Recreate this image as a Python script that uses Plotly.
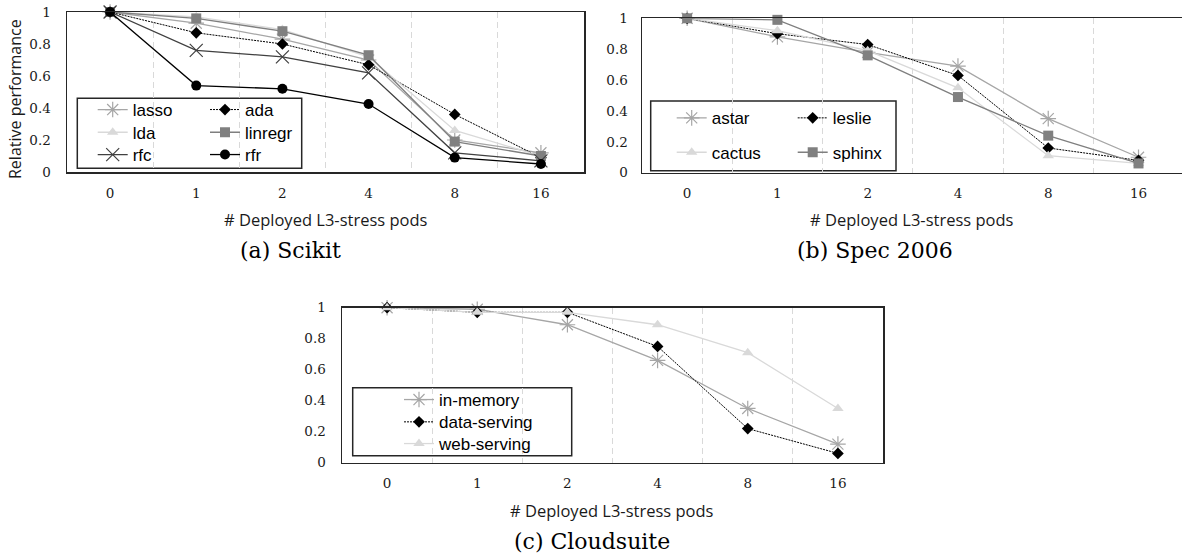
import plotly.graph_objects as go

W, H = 1182, 558

# ---------------- data ----------------
pods = ["0", "1", "2", "4", "8", "16"]

# (a) Scikit
lasso = [1.00, 0.93, 0.83, 0.70, 0.20, 0.12]
ada = [1.00, 0.87, 0.80, 0.67, 0.36, 0.09]
lda = [1.00, 0.97, 0.89, 0.72, 0.26, 0.10]
linregr = [1.00, 0.96, 0.88, 0.73, 0.19, 0.10]
rfc = [1.00, 0.76, 0.72, 0.62, 0.12, 0.07]
rfr = [1.00, 0.54, 0.52, 0.425, 0.09, 0.05]

# (b) Spec 2006
astar = [1.00, 0.88, 0.78, 0.69, 0.35, 0.10]
leslie = [1.00, 0.90, 0.83, 0.63, 0.16, 0.08]
cactus = [1.00, 0.92, 0.79, 0.55, 0.11, 0.06]
sphinx = [1.00, 0.99, 0.76, 0.49, 0.24, 0.06]

# (c) Cloudsuite
in_memory = [1.00, 0.99, 0.89, 0.66, 0.35, 0.12]
data_serving = [1.00, 0.97, 0.97, 0.75, 0.22, 0.06]
web_serving = [1.00, 0.97, 0.97, 0.89, 0.71, 0.35]

y_ticks = [0, 0.2, 0.4, 0.6, 0.8, 1]
y_ticktext = ["0", "0.2", "0.4", "0.6", "0.8", "1"]

x_title = "# Deployed L3-stress pods"
y_title = "Relative performance"
captions = ["(a) Scikit", "(b) Spec 2006", "(c) Cloudsuite"]


def px(x):
    return x / W


def py(y):
    return 1 - y / H


# ---------------- styles ----------------
STY = {
    "asterisk": dict(line=dict(color="#a6a6a6", width=1.3),
                     marker=dict(symbol="asterisk-open", size=13,
                                 line=dict(color="#808080", width=1.2))),
    "dotdiamond": dict(line=dict(color="#000000", width=1, dash="2px,1px"),
                       marker=dict(symbol="diamond", size=9, color="#000000")),
    "triangle": dict(line=dict(color="#d9d9d9", width=1.3),
                     marker=dict(symbol="triangle-up", size=10, color="#d9d9d9")),
    "square": dict(line=dict(color="#7f7f7f", width=1.3),
                   marker=dict(symbol="square", size=10, color="#808080")),
    "x": dict(line=dict(color="#404040", width=1.3),
              marker=dict(symbol="x-thin-open", size=13,
                          line=dict(color="#404040", width=1.2))),
    "circle": dict(line=dict(color="#000000", width=1.3),
                   marker=dict(symbol="circle", size=10, color="#000000")),
}

LEGFONT = dict(family="Liberation Sans", size=17, color="#000000")

fig = go.Figure()
legends = {}


def add(name, vals, style, xa, ya, text_x, row_y):
    """One trace; its legend entry is placed with its text starting at
    text_x and centred on row_y (window pixels)."""
    s = STY[style]
    lid = "legend" if not legends else "legend%d" % (len(legends) + 1)
    legends[lid] = dict(x=px(text_x - 40), y=py(row_y), xanchor="left",
                        yanchor="middle", bgcolor="rgba(0,0,0,0)",
                        borderwidth=0, font=LEGFONT, xref="paper",
                        yref="paper")
    fig.add_trace(go.Scatter(
        x=pods, y=vals, name=name, mode="lines+markers",
        line=s["line"], marker=s["marker"],
        xaxis=xa, yaxis=ya, legend=lid, cliponaxis=False,
    ))


# panel a  (legend: two columns, three rows)
add("lasso", lasso, "asterisk", "x", "y", 132.7, 110)
add("ada", ada, "dotdiamond", "x", "y", 245, 110)
add("lda", lda, "triangle", "x", "y", 132.7, 132.7)
add("linregr", linregr, "square", "x", "y", 245, 132.7)
add("rfc", rfc, "x", "x", "y", 132.7, 155)
add("rfr", rfr, "circle", "x", "y", 245, 155)

# panel b
add("astar", astar, "asterisk", "x2", "y2", 711.7, 118.3)
add("leslie", leslie, "dotdiamond", "x2", "y2", 832.7, 118.3)
add("cactus", cactus, "triangle", "x2", "y2", 711.7, 152.7)
add("sphinx", sphinx, "square", "x2", "y2", 832.7, 152.7)

# panel c
add("in-memory", in_memory, "asterisk", "x3", "y3", 439, 400)
add("data-serving", data_serving, "dotdiamond", "x3", "y3", 439, 422.3)
add("web-serving", web_serving, "triangle", "x3", "y3", 439, 444)

AX_COLOR = "#262626"
TICKFONT = dict(family="DejaVu Serif", size=13.5, color="#1a1a1a")


def xaxis(domain, anchor, rng=(-0.5, 5.5)):
    return dict(domain=domain, anchor=anchor, type="category",
                categoryorder="array", categoryarray=pods,
                range=list(rng), tickson="boundaries",
                showgrid=True, gridcolor="#d9d9d9", griddash="6px,4px",
                gridwidth=1, ticks="", showline=True, linecolor=AX_COLOR,
                linewidth=1.5, mirror=True, zeroline=False, tickfont=TICKFONT,
                ticklabelstandoff=8, fixedrange=True, automargin=False)


def yaxis(domain, anchor, mirror=True, standoff=12):
    return dict(domain=domain, anchor=anchor, range=[0, 1],
                tickvals=y_ticks, ticktext=y_ticktext, showgrid=False,
                ticks="", showline=True, linecolor=AX_COLOR, linewidth=1.5,
                mirror=mirror, zeroline=False, tickfont=TICKFONT,
                ticklabelstandoff=standoff, fixedrange=True, automargin=False)


def box(x0, y0, x1, y1):
    return dict(type="rect", xref="paper", yref="paper",
                x0=px(x0), x1=px(x1), y0=py(y0), y1=py(y1),
                line=dict(color="#262626", width=1.5), fillcolor="white",
                layer="below")


def ann(text, x, y, font, angle=0):
    return dict(text=text, x=px(x), y=py(y), xref="paper", yref="paper",
                showarrow=False, xanchor="center", yanchor="middle",
                textangle=angle, font=font)


TITLEFONT = dict(family="Open Sans", size=16.5, color="#1a1a1a")
YTITLEFONT = dict(family="Open Sans", size=16, color="#1a1a1a")
CAPFONT = dict(family="DejaVu Serif", size=22, color="#000000")

# panel b runs off the right edge of the window: category spacing 90.3 px
b_cat0, b_step = 687.0, 90.3
b_range = (-0.5, (W - b_cat0) / b_step)

fig.update_layout(
    width=W, height=H,
    margin=dict(l=0, r=0, t=0, b=0, pad=0, autoexpand=False),
    paper_bgcolor="white", plot_bgcolor="white",
    showlegend=True,
    xaxis=xaxis([px(67), px(584)], "y"),
    yaxis=yaxis([py(172), py(12)], "x", standoff=12),
    xaxis2=xaxis([px(642), 1.0], "y2", rng=b_range),
    yaxis2=yaxis([py(172.7), py(18.3)], "x2", mirror=False, standoff=10),
    xaxis3=xaxis([px(342), px(883)], "y3"),
    yaxis3=yaxis([py(462.7), py(307.7)], "x3", standoff=12),
    shapes=[
        box(77.3, 98.3, 301.7, 168.3),
        box(650.7, 101, 896, 170.7),
        box(352.7, 387.7, 571.7, 455.7),
    ],
    annotations=[
        ann(y_title, 15, 99, YTITLEFONT, angle=-90),
        ann(x_title, 325.5, 220, TITLEFONT),
        ann(x_title, 912, 220, TITLEFONT),
        ann(x_title, 612, 510, TITLEFONT),
        ann(captions[0], 290.7, 251, CAPFONT),
        ann(captions[1], 875, 251, CAPFONT),
        ann(captions[2], 591.7, 541.7, CAPFONT),
    ],
    **legends,
)

fig.write_html(
    "out.html",
    config={"displayModeBar": False, "staticPlot": True},
    post_script="document.body.style.margin='0';document.body.style.padding='0';",
)
